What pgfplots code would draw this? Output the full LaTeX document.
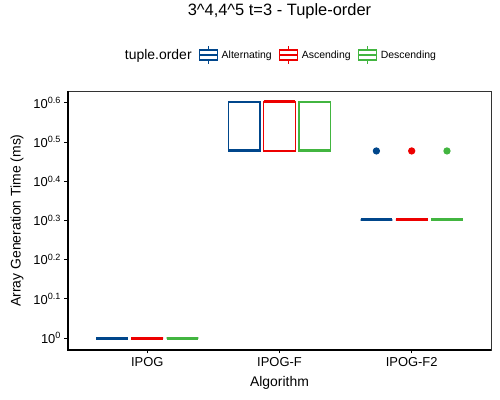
\documentclass[border=0pt]{standalone}
\usepackage{fontspec}
\setmainfont{Liberation Sans}
\usepackage{pgfplots}
\pgfplotsset{compat=1.18}
\usepgfplotslibrary{statistics}

\definecolor{lblue}{HTML}{00468B}
\definecolor{lred}{HTML}{ED0000}
\definecolor{lgreen}{HTML}{42B540}

\pgfplotsset{
  boxplot/draw direction=y,
  boxplot/box extend=0.24,
  boxplot/whisker extend=0,
  bxstyle/.style={draw=#1, fill=white, line width=1.2bp, solid,
    mark=*, mark size=3bp, mark options={draw=#1, fill=#1}, forget plot},
  legbox/.style={legend image code/.code={
      \draw[##1, line width=1.1bp] (9bp,-9bp) -- (9bp,-5bp);
      \draw[##1, line width=1.1bp] (9bp,5bp) -- (9bp,9bp);
      \draw[##1, line width=1.1bp, fill=white] (0bp,-5bp) rectangle (18bp,5bp);
      \draw[##1, line width=1.1bp] (0bp,0bp) -- (18bp,0bp);
    }},
}

\begin{document}
\begin{tikzpicture}
\begin{axis}[
  at={(68bp,50bp)}, anchor=south west,
  scale only axis, width=423bp, height=259bp,
  xmin=0.4, xmax=3.6,
  ymode=log, ymin=0.932, ymax=4.266,
  xtick={1,2,3}, xticklabels={IPOG,IPOG-F,IPOG-F2},
  ytick={1,1.2589,1.5849,1.9953,2.5119,3.1623,3.9811},
  yticklabels={10\textsuperscript{0},10\textsuperscript{0.1},10\textsuperscript{0.2},10\textsuperscript{0.3},10\textsuperscript{0.4},10\textsuperscript{0.5},10\textsuperscript{0.6}},
  yminorticks=false, minor tick num=0,
  tick align=outside, xtick pos=bottom, ytick pos=left,
  major tick length=3.5bp,
  tick style={black, line width=0.8bp},
  ticklabel style={font=\fontsize{13}{13}\selectfont, text=black},
  axis line style={draw=black!80, line width=0.8bp},
  clip=false,
  title={3\textasciicircum 4,4\textasciicircum 5 t=3 - Tuple-order},
  title style={font=\fontsize{16.5}{16.5}\selectfont, at={(axis description cs:0.5,1.286)}, anchor=center},
  xlabel={Algorithm},
  xlabel style={font=\fontsize{14}{14}\selectfont, at={(axis description cs:0.5,-0.127)}, anchor=center},
  ylabel={Array Generation Time (ms)},
  ylabel style={font=\fontsize{14}{14}\selectfont, at={(axis description cs:-0.1206,0.5)}, anchor=center},
  legend columns=-1,
  legend style={at={(0.5,1.139)}, anchor=center, draw=none, fill=none,
    font=\fontsize{10.5}{10.5}\selectfont,
    /tikz/every odd column/.append style={column sep=2bp},
    /tikz/every even column/.append style={column sep=5bp}},
]
% IPOG: all runs 1 ms
\addplot[bxstyle=lblue, boxplot prepared={draw position=0.733, every median/.style={line width=3bp},
  lower whisker=1, lower quartile=1, median=1, upper quartile=1, upper whisker=1}] coordinates {};
\addplot[bxstyle=lred, boxplot prepared={draw position=1, every median/.style={line width=3bp},
  lower whisker=1, lower quartile=1, median=1, upper quartile=1, upper whisker=1}] coordinates {};
\addplot[bxstyle=lgreen, boxplot prepared={draw position=1.267, every median/.style={line width=3bp},
  lower whisker=1, lower quartile=1, median=1, upper quartile=1, upper whisker=1}] coordinates {};
% IPOG-F
\addplot[bxstyle=lblue, boxplot prepared={draw position=1.733, every median/.style={line width=3bp},
  lower whisker=3, lower quartile=3, median=3, upper quartile=4, upper whisker=4}] coordinates {};
\addplot[bxstyle=lred, boxplot prepared={draw position=2, every median/.style={line width=3bp},
  lower whisker=3, lower quartile=3, median=4, upper quartile=4, upper whisker=4}] coordinates {};
\addplot[bxstyle=lgreen, boxplot prepared={draw position=2.267, every median/.style={line width=3bp},
  lower whisker=3, lower quartile=3, median=3, upper quartile=4, upper whisker=4}] coordinates {};
% IPOG-F2
\addplot[bxstyle=lblue, boxplot prepared={draw position=2.733, every median/.style={line width=3bp},
  lower whisker=2, lower quartile=2, median=2, upper quartile=2, upper whisker=2}] coordinates {(0,3)};
\addplot[bxstyle=lred, boxplot prepared={draw position=3, every median/.style={line width=3bp},
  lower whisker=2, lower quartile=2, median=2, upper quartile=2, upper whisker=2}] coordinates {(0,3)};
\addplot[bxstyle=lgreen, boxplot prepared={draw position=3.267, every median/.style={line width=3bp},
  lower whisker=2, lower quartile=2, median=2, upper quartile=2, upper whisker=2}] coordinates {(0,3)};

\addlegendimage{empty legend}
\addlegendentry{\fontsize{14}{14}\selectfont tuple.order}
\addlegendimage{legbox, draw=lblue}
\addlegendentry{Alternating}
\addlegendimage{legbox, draw=lred}
\addlegendentry{Ascending}
\addlegendimage{legbox, draw=lgreen}
\addlegendentry{Descending}

\draw[black, line width=1.3bp] (rel axis cs:0,1) -- (rel axis cs:0,0) -- (rel axis cs:1,0);
\end{axis}
\pgfresetboundingbox
\path[use as bounding box] (0,0) rectangle (500bp,400bp);
\end{tikzpicture}
\end{document}
